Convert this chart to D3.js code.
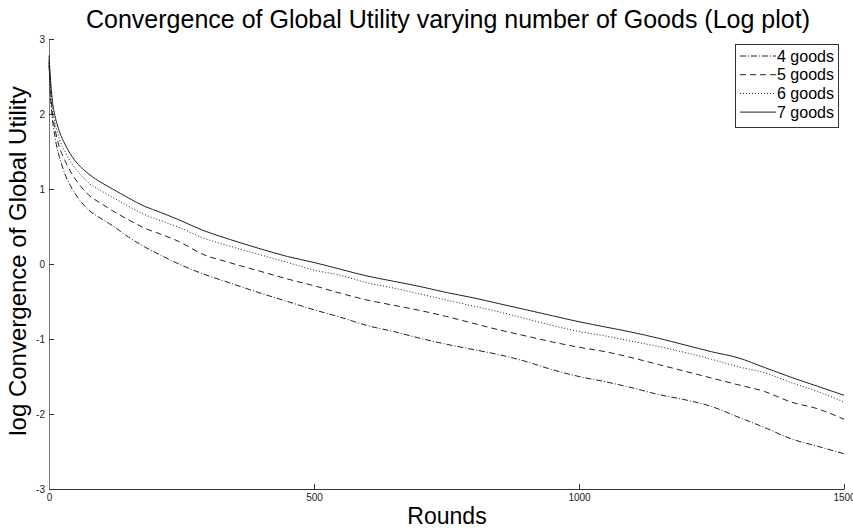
<!DOCTYPE html>
<html>
<head>
<meta charset="utf-8">
<script src="https://cdn.jsdelivr.net/npm/d3@7"></script>
<style>
  body { margin: 0; background: #fff; }
  text { font-family: "Liberation Sans", Arial, sans-serif; }
</style>
</head>
<body>
<svg id="chart" width="853" height="529"></svg>
<script>
var rounds = [0, 3, 6, 10, 15, 20, 30, 40, 55, 75, 100, 120, 150, 180, 210, 245, 290, 340, 400, 450,
    500, 550, 600, 650, 700, 750, 800, 850, 900, 950, 1000, 1050, 1100, 1150, 1200, 1250, 1300, 1350, 1400, 1450, 1500];

var goods4 = [2.65, 2.2, 1.95, 1.75, 1.55, 1.42, 1.2, 1.05, 0.88, 0.72, 0.6, 0.51, 0.36, 0.23, 0.12, 0.0, -0.13, -0.25, -0.39, -0.5,
    -0.61, -0.71, -0.82, -0.9, -0.99, -1.07, -1.14, -1.21, -1.3, -1.41, -1.5, -1.57, -1.65, -1.74, -1.81, -1.9, -2.04, -2.18, -2.33, -2.43, -2.53];
var goods5 = [2.7, 2.3, 2.05, 1.85, 1.68, 1.55, 1.38, 1.24, 1.08, 0.92, 0.8, 0.71, 0.59, 0.48, 0.4, 0.3, 0.13, 0.02, -0.1, -0.2,
    -0.29, -0.39, -0.48, -0.55, -0.62, -0.7, -0.79, -0.88, -0.96, -1.04, -1.11, -1.17, -1.25, -1.34, -1.43, -1.52, -1.61, -1.7, -1.84, -1.93, -2.07];
var goods6 = [2.72, 2.35, 2.12, 1.93, 1.78, 1.66, 1.5, 1.37, 1.23, 1.08, 0.97, 0.89, 0.77, 0.66, 0.58, 0.49, 0.35, 0.24, 0.12, 0.02,
    -0.08, -0.15, -0.25, -0.32, -0.4, -0.48, -0.56, -0.64, -0.73, -0.82, -0.9, -0.96, -1.03, -1.1, -1.18, -1.27, -1.37, -1.45, -1.58, -1.7, -1.84];
var goods7 = [2.78, 2.45, 2.2, 2.02, 1.87, 1.76, 1.6, 1.47, 1.33, 1.2, 1.08, 1.0, 0.88, 0.77, 0.69, 0.59, 0.45, 0.33, 0.2, 0.1,
    0.02, -0.07, -0.16, -0.23, -0.3, -0.38, -0.45, -0.53, -0.61, -0.69, -0.77, -0.84, -0.91, -0.99, -1.08, -1.17, -1.25, -1.38, -1.51, -1.63, -1.75];

var seriesNames = ["4 goods", "5 goods", "6 goods", "7 goods"];
var seriesValues = [goods4, goods5, goods6, goods7];
var dashes = ["6,2,1,2", "6,4", "1,2", null];

var xTicks = [0, 500, 1000, 1500];
var yTicks = [-3, -2, -1, 0, 1, 2, 3];

var svg = d3.select("#chart");
var plotLeft = 49, plotRight = 844, plotTop = 39, plotBottom = 489;

var x = d3.scaleLinear().domain([0, 1500]).range([plotLeft, plotRight]);
var y = d3.scaleLinear().domain([-3, 3]).range([plotBottom, plotTop]);

// plain hyphen for negatives, as in the original
var plain = function (d) { return String(d); };

// title and axis labels
svg.append("text")
    .attr("x", 448).attr("y", 28)
    .attr("text-anchor", "middle")
    .style("font-size", "25px")
    .text("Convergence of Global Utility varying number of Goods (Log plot)");

svg.append("text")
    .attr("x", 447).attr("y", 524)
    .attr("text-anchor", "middle")
    .style("font-size", "23px")
    .text("Rounds");

svg.append("text")
    .attr("transform", "translate(26,261) rotate(-90)")
    .attr("text-anchor", "middle")
    .style("font-size", "24px")
    .text("log Convergence of Global Utility");

// axes, ticks pointing inward
var xAxis = svg.append("g")
    .attr("transform", "translate(0," + plotBottom + ")")
    .call(d3.axisBottom(x).tickValues(xTicks).tickFormat(plain)
        .tickSizeInner(-5).tickSizeOuter(0).tickPadding(3));
var yAxis = svg.append("g")
    .attr("transform", "translate(" + plotLeft + ",0)")
    .call(d3.axisLeft(y).tickValues(yTicks).tickFormat(plain)
        .tickSizeInner(-5).tickSizeOuter(0).tickPadding(4));

xAxis.select(".domain").attr("stroke", "#333");
yAxis.select(".domain").attr("stroke", "#777");
xAxis.selectAll(".tick line").attr("stroke", "#333");
yAxis.selectAll(".tick line").attr("stroke", "#333");
svg.selectAll(".tick text")
    .attr("fill", "#222")
    .style("font-size", "10px")
    .style("font-family", "'Liberation Sans', Arial, sans-serif");
xAxis.selectAll(".tick text").attr("dy", "0.9em");

// the four curves
var line = d3.line()
    .x(function (d, i) { return x(rounds[i]); })
    .y(function (d) { return y(d); })
    .curve(d3.curveMonotoneX);

seriesValues.forEach(function (vals, i) {
    svg.append("path")
        .attr("d", line(vals))
        .attr("fill", "none")
        .attr("stroke", "#222")
        .attr("stroke-width", 1)
        .attr("stroke-dasharray", dashes[i]);
});

// legend
var lg = svg.append("g");
lg.append("rect")
    .attr("x", 735.5).attr("y", 44.5)
    .attr("width", 103).attr("height", 83)
    .attr("fill", "#fff")
    .attr("stroke", "#333");

seriesNames.forEach(function (name, i) {
    var ly = 56 + i * 18.7;
    lg.append("line")
        .attr("x1", 740).attr("x2", 776)
        .attr("y1", ly).attr("y2", ly)
        .attr("stroke", "#222")
        .attr("stroke-dasharray", dashes[i]);
    lg.append("text")
        .attr("x", 777).attr("y", ly + 5.5)
        .style("font-size", "16px")
        .text(name);
});
</script>
</body>
</html>
